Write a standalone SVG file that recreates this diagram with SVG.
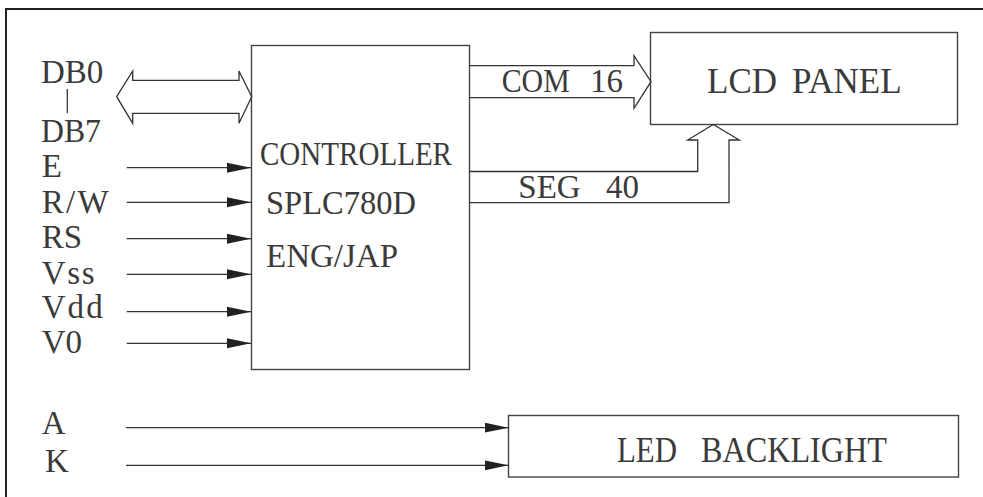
<svg xmlns="http://www.w3.org/2000/svg" width="983" height="497" viewBox="0 0 983 497">
<style>
text{font-family:"Liberation Serif","DejaVu Serif",serif;fill:#3a3a3a;font-size:33px}
.big{font-size:35px}
.ln{fill:none;stroke:#333;stroke-width:1.3}
.box{fill:#fff;stroke:#444;stroke-width:1.4}
.frame{fill:none;stroke:#222;stroke-width:2}
</style>
<defs>
<marker id="ah" markerUnits="userSpaceOnUse" markerWidth="26" markerHeight="12" refX="24" refY="6" orient="auto">
<path d="M0,1 L24,6 L0,11 Z" fill="#222"/>
</marker>
</defs>
<rect width="983" height="497" fill="#fff"/>
<path class="frame" d="M6,497 V9 H983"/>
<g id="controller">
<rect class="box" x="251.5" y="45.5" width="218" height="324"/>
<text x="260" y="165" textLength="192" lengthAdjust="spacingAndGlyphs">CONTROLLER</text>
<text x="266" y="213.5" textLength="150" lengthAdjust="spacingAndGlyphs">SPLC780D</text>
<text x="266" y="266.5">ENG/JAP</text>
</g>
<g id="lcd-panel">
<rect class="box" x="650.5" y="32.5" width="307" height="92"/>
<text class="big" x="707" y="93">LCD <tspan x="792">PANEL</tspan></text>
</g>
<g id="led-backlight">
<rect class="box" x="508.5" y="415.5" width="450" height="61.5"/>
<text class="big" x="617" y="461.5"><tspan textLength="60" lengthAdjust="spacingAndGlyphs">LED</tspan> <tspan x="701" textLength="186" lengthAdjust="spacingAndGlyphs">BACKLIGHT</tspan></text>
</g>
<g id="labels">
<text x="41" y="82.5">DB0</text>
<line class="ln" x1="67.3" y1="89" x2="67.3" y2="113"/>
<text x="41" y="141.5" textLength="60" lengthAdjust="spacingAndGlyphs">DB7</text>
<text x="41.7" y="177">E</text>
<text x="41.7" y="212.5" textLength="67" lengthAdjust="spacing">R/W</text>
<text x="41.7" y="248">RS</text>
<text x="41.7" y="284" textLength="53" lengthAdjust="spacing">Vss</text>
<text x="41.7" y="318.3" textLength="61" lengthAdjust="spacing">Vdd</text>
<text x="41.7" y="353">V0</text>
<text x="41.7" y="434.3">A</text>
<text x="45" y="471.7">K</text>
</g>
<g id="connectors">
<polygon class="ln" points="116.7,96.7 132.7,71 132.7,80.3 239,80.3 239,71 251.7,96.7 239,123.3 239,113.3 132.7,113.3 132.7,123.3"/>
<polyline class="ln" points="469.5,65.7 634,65.7 634,55.7 651,81.7 634,108.3 634,97.7 469.5,97.7"/>
<polyline class="ln" points="469.5,171.5 697.7,171.5 697.7,140 687.7,140 713.3,124.5 739.3,140 729,140 729,202.7 469.5,202.7"/>
<line class="ln" x1="126.7" y1="167.7" x2="251" y2="167.7" marker-end="url(#ah)"/>
<line class="ln" x1="126.7" y1="202.3" x2="251" y2="202.3" marker-end="url(#ah)"/>
<line class="ln" x1="126.7" y1="238.7" x2="251" y2="238.7" marker-end="url(#ah)"/>
<line class="ln" x1="126.7" y1="274.3" x2="251" y2="274.3" marker-end="url(#ah)"/>
<line class="ln" x1="126.7" y1="311.7" x2="251" y2="311.7" marker-end="url(#ah)"/>
<line class="ln" x1="126.7" y1="343.3" x2="251" y2="343.3" marker-end="url(#ah)"/>
<line class="ln" x1="126" y1="427.7" x2="508.5" y2="427.7" marker-end="url(#ah)"/>
<line class="ln" x1="126" y1="465.3" x2="508.5" y2="465.3" marker-end="url(#ah)"/>
<text x="501.7" y="91.7"><tspan textLength="68" lengthAdjust="spacingAndGlyphs">COM</tspan> <tspan x="590">16</tspan></text>
<text x="518.3" y="198">SEG <tspan x="606">40</tspan></text>
</g>
</svg>
